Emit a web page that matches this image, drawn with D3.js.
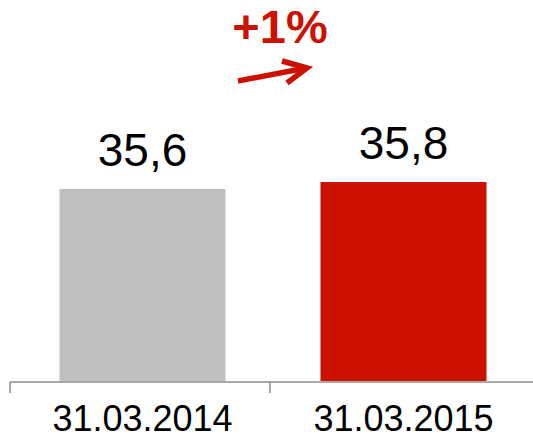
<!DOCTYPE html>
<html>
<head>
  <meta charset="utf-8">
  <script src="https://d3js.org/d3.v7.min.js"></script>
  <style>
    body { margin: 0; background: #fff; }
    svg { display: block; }
    text { font-family: "Liberation Sans", Arial, sans-serif; }
  </style>
</head>
<body>
  <svg width="533" height="441"></svg>
  <script>
    // chart data
    var categories = ["31.03.2014", "31.03.2015"];
    var values = [35.6, 35.8];
    var valueLabels = ["35,6", "35,8"];
    var barColours = ["#bfbfbf", "#cc1100"];
    var changeLabel = "+1%";

    var svg = d3.select("svg"),
      width = +svg.attr("width"),
      height = +svg.attr("height");

    var baseY = 381;

    // band per category, ticks sit on the band edges
    var x = d3.scaleBand()
      .domain(categories)
      .range([12, 534])
      .padding(0);

    var barWidth = 166;

    // axis is broken, bars do not start at zero
    var y = d3.scaleLinear()
      .domain([30.1, 35.8])
      .range([baseY, 182]);

    // bars
    svg.append("g")
      .selectAll("rect")
      .data(values)
      .enter()
      .append("rect")
      .attr("x", function(d, i) { return x(categories[i]) + x.bandwidth() / 2 - barWidth / 2; })
      .attr("y", function(d) { return y(d); })
      .attr("width", barWidth)
      .attr("height", function(d) { return baseY - y(d); })
      .attr("fill", function(d, i) { return barColours[i]; });

    // value labels
    svg.append("g")
      .selectAll("text")
      .data(values)
      .enter()
      .append("text")
      .attr("x", function(d, i) { return x(categories[i]) + x.bandwidth() / 2; })
      .attr("y", function(d) { return y(d) - 23; })
      .attr("text-anchor", "middle")
      .attr("font-size", "46px")
      .attr("fill", "#000")
      .text(function(d, i) { return valueLabels[i]; });

    // x axis line with ticks at band edges
    var axis = svg.append("g").attr("stroke", "#8a8a8a").attr("stroke-width", 1.5);
    axis.append("line")
      .attr("x1", x.range()[0] - 2).attr("x2", width)
      .attr("y1", baseY + 1).attr("y2", baseY + 1);
    axis.selectAll("line.tick")
      .data([x(categories[0]) - 2, x(categories[1]) - 3])
      .enter()
      .append("line")
      .attr("class", "tick")
      .attr("x1", function(d) { return d; }).attr("x2", function(d) { return d; })
      .attr("y1", baseY + 1).attr("y2", baseY + 12);

    // category labels
    svg.append("g")
      .selectAll("text")
      .data(categories)
      .enter()
      .append("text")
      .attr("x", function(d) { return x(d) + x.bandwidth() / 2; })
      .attr("y", 431)
      .attr("text-anchor", "middle")
      .attr("font-size", "36px")
      .attr("fill", "#000")
      .text(function(d) { return d; });

    // change annotation
    var midX = x(categories[1]);
    svg.append("text")
      .attr("x", midX + 7)
      .attr("y", 43)
      .attr("text-anchor", "middle")
      .attr("font-size", "47px")
      .attr("font-weight", "bold")
      .attr("fill", "#cc1100")
      .text(changeLabel);

    var arrow = svg.append("g")
      .attr("stroke", "#cc1100")
      .attr("stroke-width", 5.5)
      .attr("fill", "none");
    arrow.append("line")
      .attr("x1", midX - 35).attr("y1", 81)
      .attr("x2", midX + 33).attr("y2", 68);
    arrow.append("path")
      .attr("d", "M" + (midX + 9) + "," + 61 + " L" + (midX + 34) + "," + 68 + " L" + (midX + 14) + "," + 83)
      .attr("stroke-linejoin", "miter");
  </script>
</body>
</html>
